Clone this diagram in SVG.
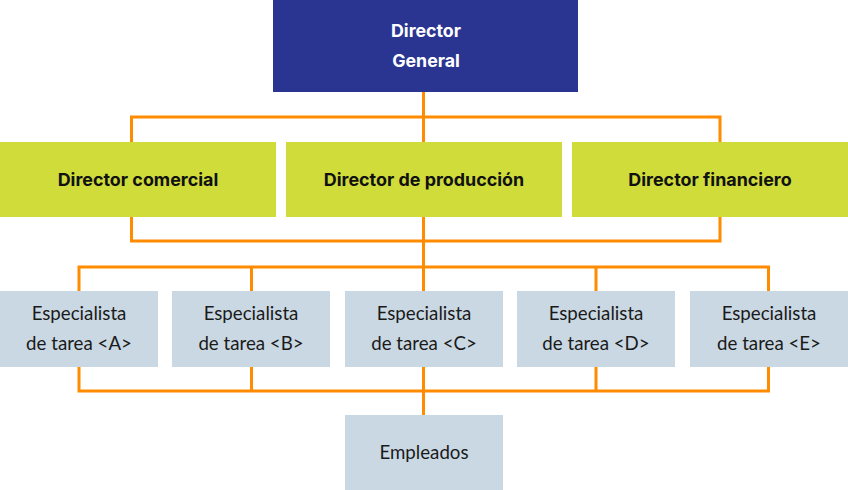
<svg xmlns="http://www.w3.org/2000/svg" width="848" height="490" viewBox="0 0 848 490">
<style>
.top{fill:#2a3591}
.dir{fill:#cfdc3a}
.spec{fill:#cad8e3}
.tw{font-family:Inter,"Liberation Sans",sans-serif;font-weight:700;font-size:17.8px;fill:#ffffff;text-anchor:middle}
.tb{font-family:Inter,"Liberation Sans",sans-serif;font-weight:700;font-size:17.9px;fill:#111111;text-anchor:middle}
.ts{font-family:Lato,"Open Sans",sans-serif;font-size:18.7px;fill:#1a1a1a;text-anchor:middle}
.ln{fill:none;stroke:#ff8c00;stroke-width:3}
</style>
<g id="connectors">
<path class="ln" d="M423.5 92 V142 M131.5 142 V117 H720 V142"/>
<path class="ln" d="M131.5 217 V241 H720 V217 M423.5 217 V291"/>
<path class="ln" d="M79 291 V267 H768.5 V291 M251.5 267 V291 M596 267 V291"/>
<path class="ln" d="M79 367 V391 H768.5 V367 M251.5 367 V391 M596 367 V391 M423.5 367 V415"/>
</g>
<g id="director-general">
<rect class="top" x="273" y="0" width="305" height="92"/>
<text class="tw" x="426" y="37">Director</text>
<text class="tw" x="426" y="67">General</text>
</g>
<g id="director-comercial">
<rect class="dir" x="0" y="142" width="276" height="75"/>
<text class="tb" x="138" y="186">Director comercial</text>
</g>
<g id="director-produccion">
<rect class="dir" x="286" y="142" width="276" height="75"/>
<text class="tb" x="424" y="186">Director de producción</text>
</g>
<g id="director-financiero">
<rect class="dir" x="572" y="142" width="276" height="75"/>
<text class="tb" x="710" y="186">Director financiero</text>
</g>
<g id="especialista-a">
<rect class="spec" x="0" y="291" width="158" height="76"/>
<text class="ts" x="79" y="320">Especialista</text>
<text class="ts" x="79" y="350">de tarea &lt;A&gt;</text>
</g>
<g id="especialista-b">
<rect class="spec" x="172" y="291" width="158" height="76"/>
<text class="ts" x="251" y="320">Especialista</text>
<text class="ts" x="251" y="350">de tarea &lt;B&gt;</text>
</g>
<g id="especialista-c">
<rect class="spec" x="345" y="291" width="158" height="76"/>
<text class="ts" x="424" y="320">Especialista</text>
<text class="ts" x="424" y="350">de tarea &lt;C&gt;</text>
</g>
<g id="especialista-d">
<rect class="spec" x="517" y="291" width="158" height="76"/>
<text class="ts" x="596" y="320">Especialista</text>
<text class="ts" x="596" y="350">de tarea &lt;D&gt;</text>
</g>
<g id="especialista-e">
<rect class="spec" x="690" y="291" width="158" height="76"/>
<text class="ts" x="769" y="320">Especialista</text>
<text class="ts" x="769" y="350">de tarea &lt;E&gt;</text>
</g>
<g id="empleados">
<rect class="spec" x="345" y="415" width="158" height="75"/>
<text class="ts" x="424" y="459">Empleados</text>
</g>
</svg>
